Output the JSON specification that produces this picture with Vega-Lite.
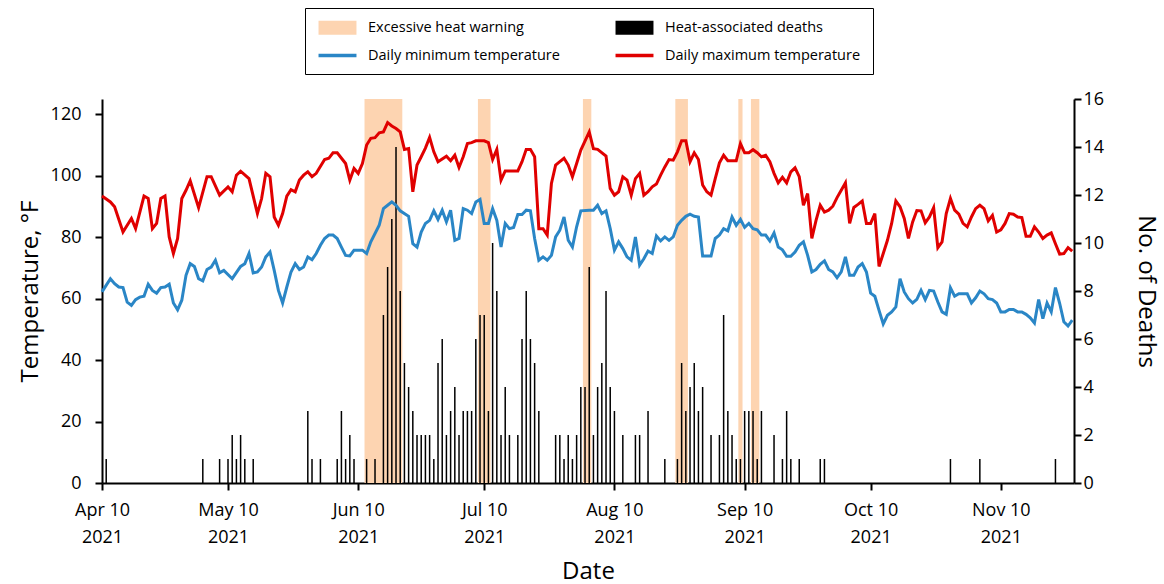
{
  "$schema": "https://vega.github.io/schema/vega-lite/v6.json",
  "width": 972,
  "height": 384,
  "autosize": "none",
  "padding": {"left": 102, "top": 99, "right": 90, "bottom": 101},
  "background": "white",
  "config": {
    "view": {"stroke": null},
    "font": "Open Sans",
    "axis": {
      "domainColor": "black", "tickColor": "black", "labelColor": "black", "titleColor": "black",
      "domainWidth": 2, "tickWidth": 2, "tickSize": 7, "labelFontSize": 18, "titleFontSize": 24,
      "titleFontWeight": "normal", "labelFont": "Open Sans", "titleFont": "Open Sans", "grid": false
    }
  },
  "datasets": {
    "bands": [
      {"start": "2021-06-11T12:00:00Z", "end": "2021-06-20T12:00:00Z"},
      {"start": "2021-07-08T12:00:00Z", "end": "2021-07-11T12:00:00Z"},
      {"start": "2021-08-02T12:00:00Z", "end": "2021-08-04T12:00:00Z"},
      {"start": "2021-08-24T12:00:00Z", "end": "2021-08-27T12:00:00Z"},
      {"start": "2021-09-08T12:00:00Z", "end": "2021-09-09T12:00:00Z"},
      {"start": "2021-09-11T12:00:00Z", "end": "2021-09-13T12:00:00Z"}
    ],
    "deaths": [
      {"date": "2021-04-11", "deaths": 1}, {"date": "2021-05-04", "deaths": 1}, {"date": "2021-05-08", "deaths": 1},
      {"date": "2021-05-10", "deaths": 1}, {"date": "2021-05-11", "deaths": 2}, {"date": "2021-05-12", "deaths": 1},
      {"date": "2021-05-13", "deaths": 2}, {"date": "2021-05-14", "deaths": 1}, {"date": "2021-05-16", "deaths": 1},
      {"date": "2021-05-29", "deaths": 3}, {"date": "2021-05-30", "deaths": 1}, {"date": "2021-06-01", "deaths": 1},
      {"date": "2021-06-05", "deaths": 1}, {"date": "2021-06-06", "deaths": 3}, {"date": "2021-06-07", "deaths": 1},
      {"date": "2021-06-08", "deaths": 2}, {"date": "2021-06-09", "deaths": 1}, {"date": "2021-06-12", "deaths": 1},
      {"date": "2021-06-14", "deaths": 1}, {"date": "2021-06-16", "deaths": 7}, {"date": "2021-06-17", "deaths": 9},
      {"date": "2021-06-18", "deaths": 11}, {"date": "2021-06-19", "deaths": 14}, {"date": "2021-06-20", "deaths": 8},
      {"date": "2021-06-21", "deaths": 5}, {"date": "2021-06-22", "deaths": 4}, {"date": "2021-06-23", "deaths": 3},
      {"date": "2021-06-24", "deaths": 2}, {"date": "2021-06-25", "deaths": 2}, {"date": "2021-06-26", "deaths": 2},
      {"date": "2021-06-27", "deaths": 2}, {"date": "2021-06-28", "deaths": 1}, {"date": "2021-06-29", "deaths": 5},
      {"date": "2021-06-30", "deaths": 6}, {"date": "2021-07-01", "deaths": 2}, {"date": "2021-07-02", "deaths": 3},
      {"date": "2021-07-03", "deaths": 4}, {"date": "2021-07-04", "deaths": 2}, {"date": "2021-07-05", "deaths": 3},
      {"date": "2021-07-06", "deaths": 3}, {"date": "2021-07-07", "deaths": 3}, {"date": "2021-07-08", "deaths": 6},
      {"date": "2021-07-09", "deaths": 7}, {"date": "2021-07-10", "deaths": 7}, {"date": "2021-07-11", "deaths": 3},
      {"date": "2021-07-12", "deaths": 10}, {"date": "2021-07-13", "deaths": 8}, {"date": "2021-07-14", "deaths": 2},
      {"date": "2021-07-15", "deaths": 4}, {"date": "2021-07-16", "deaths": 2}, {"date": "2021-07-18", "deaths": 2},
      {"date": "2021-07-19", "deaths": 6}, {"date": "2021-07-20", "deaths": 8}, {"date": "2021-07-21", "deaths": 6},
      {"date": "2021-07-22", "deaths": 5}, {"date": "2021-07-23", "deaths": 3}, {"date": "2021-07-27", "deaths": 2},
      {"date": "2021-07-28", "deaths": 2}, {"date": "2021-07-29", "deaths": 1}, {"date": "2021-07-30", "deaths": 2},
      {"date": "2021-07-31", "deaths": 1}, {"date": "2021-08-01", "deaths": 2}, {"date": "2021-08-02", "deaths": 4},
      {"date": "2021-08-03", "deaths": 4}, {"date": "2021-08-04", "deaths": 9}, {"date": "2021-08-05", "deaths": 2},
      {"date": "2021-08-06", "deaths": 4}, {"date": "2021-08-07", "deaths": 5}, {"date": "2021-08-08", "deaths": 8},
      {"date": "2021-08-09", "deaths": 4}, {"date": "2021-08-10", "deaths": 3}, {"date": "2021-08-12", "deaths": 2},
      {"date": "2021-08-15", "deaths": 2}, {"date": "2021-08-16", "deaths": 2}, {"date": "2021-08-18", "deaths": 3},
      {"date": "2021-08-22", "deaths": 1}, {"date": "2021-08-25", "deaths": 1}, {"date": "2021-08-26", "deaths": 5},
      {"date": "2021-08-27", "deaths": 3}, {"date": "2021-08-28", "deaths": 4}, {"date": "2021-08-29", "deaths": 5},
      {"date": "2021-08-30", "deaths": 3}, {"date": "2021-08-31", "deaths": 4}, {"date": "2021-09-02", "deaths": 2},
      {"date": "2021-09-04", "deaths": 2}, {"date": "2021-09-05", "deaths": 7}, {"date": "2021-09-06", "deaths": 3},
      {"date": "2021-09-07", "deaths": 2}, {"date": "2021-09-08", "deaths": 1}, {"date": "2021-09-09", "deaths": 1},
      {"date": "2021-09-10", "deaths": 3}, {"date": "2021-09-11", "deaths": 3}, {"date": "2021-09-12", "deaths": 3},
      {"date": "2021-09-13", "deaths": 1}, {"date": "2021-09-14", "deaths": 3}, {"date": "2021-09-17", "deaths": 2},
      {"date": "2021-09-19", "deaths": 1}, {"date": "2021-09-20", "deaths": 3}, {"date": "2021-09-21", "deaths": 1},
      {"date": "2021-09-23", "deaths": 1}, {"date": "2021-09-28", "deaths": 1}, {"date": "2021-09-29", "deaths": 1},
      {"date": "2021-10-29", "deaths": 1}, {"date": "2021-11-05", "deaths": 1}, {"date": "2021-11-23", "deaths": 1}
    ],
    "tmax": [
      {"date": "2021-04-10", "temp": 93.4}, {"date": "2021-04-12", "temp": 91.5}, {"date": "2021-04-13", "temp": 89.9},
      {"date": "2021-04-15", "temp": 81.7}, {"date": "2021-04-17", "temp": 86.1}, {"date": "2021-04-18", "temp": 82.8},
      {"date": "2021-04-20", "temp": 93.4}, {"date": "2021-04-21", "temp": 92.6}, {"date": "2021-04-22", "temp": 82.8},
      {"date": "2021-04-23", "temp": 84.5}, {"date": "2021-04-24", "temp": 92.6}, {"date": "2021-04-25", "temp": 93.4},
      {"date": "2021-04-26", "temp": 80.1}, {"date": "2021-04-27", "temp": 74.7}, {"date": "2021-04-28", "temp": 79.6},
      {"date": "2021-04-29", "temp": 92.6}, {"date": "2021-04-30", "temp": 95.3}, {"date": "2021-05-01", "temp": 98.4},
      {"date": "2021-05-03", "temp": 89.6}, {"date": "2021-05-05", "temp": 99.7}, {"date": "2021-05-06", "temp": 99.7},
      {"date": "2021-05-08", "temp": 93.7}, {"date": "2021-05-10", "temp": 96.4}, {"date": "2021-05-11", "temp": 94.8},
      {"date": "2021-05-12", "temp": 100.2}, {"date": "2021-05-13", "temp": 101.5}, {"date": "2021-05-15", "temp": 99.1},
      {"date": "2021-05-17", "temp": 87.7}, {"date": "2021-05-18", "temp": 92.6}, {"date": "2021-05-19", "temp": 100.8},
      {"date": "2021-05-20", "temp": 99.7}, {"date": "2021-05-21", "temp": 86.6}, {"date": "2021-05-22", "temp": 83.9},
      {"date": "2021-05-23", "temp": 87.7}, {"date": "2021-05-24", "temp": 93.4}, {"date": "2021-05-25", "temp": 95.5},
      {"date": "2021-05-26", "temp": 94.8}, {"date": "2021-05-27", "temp": 98.6}, {"date": "2021-05-28", "temp": 100.2},
      {"date": "2021-05-29", "temp": 101.3}, {"date": "2021-05-30", "temp": 99.7}, {"date": "2021-05-31", "temp": 100.8},
      {"date": "2021-06-02", "temp": 105.3}, {"date": "2021-06-03", "temp": 105.7}, {"date": "2021-06-04", "temp": 107.5},
      {"date": "2021-06-05", "temp": 107.5}, {"date": "2021-06-07", "temp": 104}, {"date": "2021-06-08", "temp": 98.6},
      {"date": "2021-06-09", "temp": 102.4}, {"date": "2021-06-10", "temp": 100.8}, {"date": "2021-06-11", "temp": 104},
      {"date": "2021-06-12", "temp": 110}, {"date": "2021-06-13", "temp": 112.2}, {"date": "2021-06-14", "temp": 112.4},
      {"date": "2021-06-15", "temp": 114}, {"date": "2021-06-16", "temp": 114.3}, {"date": "2021-06-17", "temp": 117.3},
      {"date": "2021-06-18", "temp": 116.2}, {"date": "2021-06-19", "temp": 115.4}, {"date": "2021-06-20", "temp": 114.3},
      {"date": "2021-06-21", "temp": 108.6}, {"date": "2021-06-22", "temp": 108.9}, {"date": "2021-06-23", "temp": 94.8},
      {"date": "2021-06-24", "temp": 103.5}, {"date": "2021-06-25", "temp": 106.2}, {"date": "2021-06-26", "temp": 109},
      {"date": "2021-06-27", "temp": 112.5}, {"date": "2021-06-28", "temp": 107.8}, {"date": "2021-06-29", "temp": 104.6},
      {"date": "2021-07-01", "temp": 106.4}, {"date": "2021-07-02", "temp": 104.9}, {"date": "2021-07-03", "temp": 106.7},
      {"date": "2021-07-04", "temp": 102.7}, {"date": "2021-07-05", "temp": 106.2}, {"date": "2021-07-06", "temp": 110.5},
      {"date": "2021-07-07", "temp": 110.8}, {"date": "2021-07-08", "temp": 111.4}, {"date": "2021-07-10", "temp": 111.4},
      {"date": "2021-07-11", "temp": 110.8}, {"date": "2021-07-12", "temp": 105.3}, {"date": "2021-07-13", "temp": 108.6},
      {"date": "2021-07-14", "temp": 98.6}, {"date": "2021-07-15", "temp": 101.6}, {"date": "2021-07-18", "temp": 101.6},
      {"date": "2021-07-19", "temp": 104.6}, {"date": "2021-07-20", "temp": 108.6}, {"date": "2021-07-21", "temp": 108.6},
      {"date": "2021-07-22", "temp": 106.2}, {"date": "2021-07-23", "temp": 82.8}, {"date": "2021-07-24", "temp": 82.8},
      {"date": "2021-07-25", "temp": 80.7}, {"date": "2021-07-26", "temp": 97.5}, {"date": "2021-07-27", "temp": 103.5},
      {"date": "2021-07-28", "temp": 104.6}, {"date": "2021-07-29", "temp": 105.7}, {"date": "2021-07-30", "temp": 103.5},
      {"date": "2021-07-31", "temp": 99.7}, {"date": "2021-08-01", "temp": 104}, {"date": "2021-08-02", "temp": 108.4},
      {"date": "2021-08-04", "temp": 114.3}, {"date": "2021-08-05", "temp": 108.8}, {"date": "2021-08-06", "temp": 108.6},
      {"date": "2021-08-08", "temp": 106.4}, {"date": "2021-08-09", "temp": 95.9}, {"date": "2021-08-10", "temp": 93.7},
      {"date": "2021-08-11", "temp": 94.8}, {"date": "2021-08-12", "temp": 99.7}, {"date": "2021-08-13", "temp": 98.6},
      {"date": "2021-08-14", "temp": 93.7}, {"date": "2021-08-15", "temp": 99.1}, {"date": "2021-08-16", "temp": 100.8},
      {"date": "2021-08-17", "temp": 93.7}, {"date": "2021-08-18", "temp": 94.8}, {"date": "2021-08-19", "temp": 96.4},
      {"date": "2021-08-20", "temp": 97.3}, {"date": "2021-08-21", "temp": 100.2}, {"date": "2021-08-22", "temp": 102.9},
      {"date": "2021-08-23", "temp": 105.3}, {"date": "2021-08-24", "temp": 105.1}, {"date": "2021-08-25", "temp": 107.8},
      {"date": "2021-08-26", "temp": 111.4}, {"date": "2021-08-27", "temp": 111.4}, {"date": "2021-08-28", "temp": 104.6},
      {"date": "2021-08-29", "temp": 107.5}, {"date": "2021-08-30", "temp": 105.3}, {"date": "2021-08-31", "temp": 97},
      {"date": "2021-09-01", "temp": 94.8}, {"date": "2021-09-02", "temp": 93.7}, {"date": "2021-09-03", "temp": 99.1},
      {"date": "2021-09-04", "temp": 104.2}, {"date": "2021-09-05", "temp": 106.7}, {"date": "2021-09-06", "temp": 104.9},
      {"date": "2021-09-08", "temp": 104.9}, {"date": "2021-09-09", "temp": 110.5}, {"date": "2021-09-10", "temp": 107.5},
      {"date": "2021-09-11", "temp": 107.5}, {"date": "2021-09-12", "temp": 108.5}, {"date": "2021-09-13", "temp": 107.5},
      {"date": "2021-09-14", "temp": 106.2}, {"date": "2021-09-15", "temp": 106.7}, {"date": "2021-09-16", "temp": 104.6},
      {"date": "2021-09-17", "temp": 100.8}, {"date": "2021-09-18", "temp": 97.7}, {"date": "2021-09-19", "temp": 99.5},
      {"date": "2021-09-20", "temp": 97.7}, {"date": "2021-09-21", "temp": 101.3}, {"date": "2021-09-22", "temp": 102.6},
      {"date": "2021-09-23", "temp": 99.7}, {"date": "2021-09-24", "temp": 90.4}, {"date": "2021-09-25", "temp": 94.2},
      {"date": "2021-09-26", "temp": 79.6}, {"date": "2021-09-27", "temp": 85.5}, {"date": "2021-09-28", "temp": 90.4},
      {"date": "2021-09-29", "temp": 88.2}, {"date": "2021-09-30", "temp": 88.8}, {"date": "2021-10-01", "temp": 90.1},
      {"date": "2021-10-02", "temp": 92.9}, {"date": "2021-10-03", "temp": 95.3}, {"date": "2021-10-04", "temp": 97.7},
      {"date": "2021-10-05", "temp": 84.5}, {"date": "2021-10-06", "temp": 89.7}, {"date": "2021-10-07", "temp": 90.7},
      {"date": "2021-10-08", "temp": 91.8}, {"date": "2021-10-09", "temp": 84.5}, {"date": "2021-10-10", "temp": 84.5},
      {"date": "2021-10-11", "temp": 87.7}, {"date": "2021-10-12", "temp": 70.5}, {"date": "2021-10-13", "temp": 74.7},
      {"date": "2021-10-14", "temp": 79}, {"date": "2021-10-15", "temp": 84.5}, {"date": "2021-10-16", "temp": 91.8},
      {"date": "2021-10-17", "temp": 89.9}, {"date": "2021-10-18", "temp": 86.1}, {"date": "2021-10-19", "temp": 79.6},
      {"date": "2021-10-20", "temp": 85}, {"date": "2021-10-21", "temp": 88.7}, {"date": "2021-10-22", "temp": 88.6},
      {"date": "2021-10-23", "temp": 84.7}, {"date": "2021-10-24", "temp": 86.6}, {"date": "2021-10-25", "temp": 89.6},
      {"date": "2021-10-26", "temp": 76.6}, {"date": "2021-10-27", "temp": 78.5}, {"date": "2021-10-28", "temp": 87.7},
      {"date": "2021-10-29", "temp": 92.6}, {"date": "2021-10-30", "temp": 88.8}, {"date": "2021-10-31", "temp": 87.5},
      {"date": "2021-11-01", "temp": 84.5}, {"date": "2021-11-02", "temp": 83.4}, {"date": "2021-11-03", "temp": 86.6},
      {"date": "2021-11-04", "temp": 89.3}, {"date": "2021-11-05", "temp": 90.4}, {"date": "2021-11-06", "temp": 89.3},
      {"date": "2021-11-07", "temp": 85.3}, {"date": "2021-11-08", "temp": 87.1}, {"date": "2021-11-09", "temp": 81.7},
      {"date": "2021-11-10", "temp": 82.4}, {"date": "2021-11-11", "temp": 84.5}, {"date": "2021-11-12", "temp": 87.7},
      {"date": "2021-11-13", "temp": 87.5}, {"date": "2021-11-14", "temp": 86.6}, {"date": "2021-11-15", "temp": 86.4},
      {"date": "2021-11-16", "temp": 80.3}, {"date": "2021-11-17", "temp": 80.3}, {"date": "2021-11-18", "temp": 83.4},
      {"date": "2021-11-19", "temp": 81.7}, {"date": "2021-11-20", "temp": 79.6}, {"date": "2021-11-21", "temp": 80.7},
      {"date": "2021-11-22", "temp": 81.4}, {"date": "2021-11-23", "temp": 77.9}, {"date": "2021-11-24", "temp": 74.5},
      {"date": "2021-11-25", "temp": 74.7}, {"date": "2021-11-26", "temp": 76.6}, {"date": "2021-11-27", "temp": 75.5}
    ],
    "tmin": [
      {"date": "2021-04-10", "temp": 62.2}, {"date": "2021-04-12", "temp": 66.5}, {"date": "2021-04-13", "temp": 64.9},
      {"date": "2021-04-14", "temp": 63.8}, {"date": "2021-04-15", "temp": 63.6}, {"date": "2021-04-16", "temp": 58.9},
      {"date": "2021-04-17", "temp": 57.8}, {"date": "2021-04-18", "temp": 59.7}, {"date": "2021-04-19", "temp": 60.5},
      {"date": "2021-04-20", "temp": 60.8}, {"date": "2021-04-21", "temp": 64.7}, {"date": "2021-04-22", "temp": 62.7},
      {"date": "2021-04-23", "temp": 61.8}, {"date": "2021-04-24", "temp": 63.6}, {"date": "2021-04-25", "temp": 63.8},
      {"date": "2021-04-26", "temp": 64.7}, {"date": "2021-04-27", "temp": 58.6}, {"date": "2021-04-28", "temp": 56.4},
      {"date": "2021-04-29", "temp": 59.5}, {"date": "2021-04-30", "temp": 67.6}, {"date": "2021-05-01", "temp": 71.4},
      {"date": "2021-05-02", "temp": 70.5}, {"date": "2021-05-03", "temp": 66.5}, {"date": "2021-05-04", "temp": 65.8},
      {"date": "2021-05-05", "temp": 69.5}, {"date": "2021-05-06", "temp": 70.3}, {"date": "2021-05-07", "temp": 72.5},
      {"date": "2021-05-08", "temp": 68.4}, {"date": "2021-05-09", "temp": 69.2}, {"date": "2021-05-11", "temp": 66.5},
      {"date": "2021-05-13", "temp": 70.5}, {"date": "2021-05-14", "temp": 71.4}, {"date": "2021-05-15", "temp": 74.7},
      {"date": "2021-05-16", "temp": 68.4}, {"date": "2021-05-17", "temp": 68.7}, {"date": "2021-05-18", "temp": 70.3},
      {"date": "2021-05-19", "temp": 73.6}, {"date": "2021-05-20", "temp": 75.2}, {"date": "2021-05-21", "temp": 69.2},
      {"date": "2021-05-22", "temp": 62.7}, {"date": "2021-05-23", "temp": 58.6}, {"date": "2021-05-24", "temp": 63.8},
      {"date": "2021-05-25", "temp": 68.7}, {"date": "2021-05-26", "temp": 71.4}, {"date": "2021-05-27", "temp": 69.5},
      {"date": "2021-05-28", "temp": 70.3}, {"date": "2021-05-29", "temp": 73.6}, {"date": "2021-05-30", "temp": 72.7},
      {"date": "2021-05-31", "temp": 74.7}, {"date": "2021-06-01", "temp": 77.4}, {"date": "2021-06-02", "temp": 79.6},
      {"date": "2021-06-03", "temp": 80.7}, {"date": "2021-06-04", "temp": 80.7}, {"date": "2021-06-05", "temp": 79.6},
      {"date": "2021-06-06", "temp": 76.8}, {"date": "2021-06-07", "temp": 74.1}, {"date": "2021-06-08", "temp": 73.9},
      {"date": "2021-06-09", "temp": 75.8}, {"date": "2021-06-11", "temp": 75.8}, {"date": "2021-06-12", "temp": 74.7},
      {"date": "2021-06-13", "temp": 78.5}, {"date": "2021-06-15", "temp": 83.9}, {"date": "2021-06-16", "temp": 89.3},
      {"date": "2021-06-17", "temp": 90.4}, {"date": "2021-06-18", "temp": 91.5}, {"date": "2021-06-19", "temp": 90.4},
      {"date": "2021-06-20", "temp": 88.6}, {"date": "2021-06-22", "temp": 86.8}, {"date": "2021-06-23", "temp": 77.9},
      {"date": "2021-06-24", "temp": 76.8}, {"date": "2021-06-25", "temp": 81.7}, {"date": "2021-06-26", "temp": 84.5},
      {"date": "2021-06-27", "temp": 85.5}, {"date": "2021-06-28", "temp": 88.6}, {"date": "2021-06-29", "temp": 85.8},
      {"date": "2021-06-30", "temp": 88.8}, {"date": "2021-07-01", "temp": 85}, {"date": "2021-07-02", "temp": 88.8},
      {"date": "2021-07-03", "temp": 79}, {"date": "2021-07-04", "temp": 79.6}, {"date": "2021-07-05", "temp": 89.3},
      {"date": "2021-07-06", "temp": 88.8}, {"date": "2021-07-07", "temp": 87.7}, {"date": "2021-07-08", "temp": 91.5},
      {"date": "2021-07-09", "temp": 92.3}, {"date": "2021-07-10", "temp": 84.5}, {"date": "2021-07-11", "temp": 84.5},
      {"date": "2021-07-12", "temp": 89.3}, {"date": "2021-07-13", "temp": 85.5}, {"date": "2021-07-14", "temp": 76.8},
      {"date": "2021-07-15", "temp": 84.5}, {"date": "2021-07-16", "temp": 82.8}, {"date": "2021-07-17", "temp": 83.2},
      {"date": "2021-07-18", "temp": 87.4}, {"date": "2021-07-19", "temp": 87.4}, {"date": "2021-07-20", "temp": 88.8},
      {"date": "2021-07-21", "temp": 88.6}, {"date": "2021-07-22", "temp": 79.6}, {"date": "2021-07-23", "temp": 72.5},
      {"date": "2021-07-24", "temp": 73.6}, {"date": "2021-07-25", "temp": 72.5}, {"date": "2021-07-26", "temp": 74.1},
      {"date": "2021-07-27", "temp": 80.1}, {"date": "2021-07-28", "temp": 82.3}, {"date": "2021-07-29", "temp": 86.6},
      {"date": "2021-07-30", "temp": 79}, {"date": "2021-07-31", "temp": 76.8}, {"date": "2021-08-01", "temp": 83.4},
      {"date": "2021-08-02", "temp": 88.6}, {"date": "2021-08-04", "temp": 88.8}, {"date": "2021-08-05", "temp": 88.8},
      {"date": "2021-08-06", "temp": 90.4}, {"date": "2021-08-07", "temp": 87.7}, {"date": "2021-08-08", "temp": 88.6},
      {"date": "2021-08-09", "temp": 82.8}, {"date": "2021-08-10", "temp": 75.8}, {"date": "2021-08-11", "temp": 78.5},
      {"date": "2021-08-12", "temp": 76.3}, {"date": "2021-08-13", "temp": 73.6}, {"date": "2021-08-14", "temp": 72.5},
      {"date": "2021-08-15", "temp": 80.1}, {"date": "2021-08-16", "temp": 70.9}, {"date": "2021-08-17", "temp": 73},
      {"date": "2021-08-18", "temp": 75.5}, {"date": "2021-08-19", "temp": 74.7}, {"date": "2021-08-20", "temp": 80.4},
      {"date": "2021-08-21", "temp": 78.8}, {"date": "2021-08-22", "temp": 80.1}, {"date": "2021-08-23", "temp": 79},
      {"date": "2021-08-24", "temp": 80.1}, {"date": "2021-08-25", "temp": 83.9}, {"date": "2021-08-26", "temp": 85.5},
      {"date": "2021-08-27", "temp": 86.8}, {"date": "2021-08-28", "temp": 87.5}, {"date": "2021-08-29", "temp": 86.8},
      {"date": "2021-08-30", "temp": 86.6}, {"date": "2021-08-31", "temp": 73.9}, {"date": "2021-09-02", "temp": 73.9},
      {"date": "2021-09-03", "temp": 79.6}, {"date": "2021-09-04", "temp": 80.7}, {"date": "2021-09-05", "temp": 82.8},
      {"date": "2021-09-06", "temp": 82.1}, {"date": "2021-09-07", "temp": 86.6}, {"date": "2021-09-08", "temp": 83.9},
      {"date": "2021-09-09", "temp": 85.8}, {"date": "2021-09-10", "temp": 83.2}, {"date": "2021-09-11", "temp": 84.5},
      {"date": "2021-09-12", "temp": 82.8}, {"date": "2021-09-13", "temp": 82.4}, {"date": "2021-09-14", "temp": 80.7},
      {"date": "2021-09-15", "temp": 80.7}, {"date": "2021-09-16", "temp": 78.8}, {"date": "2021-09-17", "temp": 81.4},
      {"date": "2021-09-18", "temp": 76.8}, {"date": "2021-09-19", "temp": 75.9}, {"date": "2021-09-20", "temp": 73.8},
      {"date": "2021-09-21", "temp": 73.8}, {"date": "2021-09-22", "temp": 75.2}, {"date": "2021-09-23", "temp": 77.4},
      {"date": "2021-09-24", "temp": 78.5}, {"date": "2021-09-25", "temp": 74.1}, {"date": "2021-09-26", "temp": 68.7},
      {"date": "2021-09-27", "temp": 69.5}, {"date": "2021-09-28", "temp": 71.2}, {"date": "2021-09-29", "temp": 72.3},
      {"date": "2021-09-30", "temp": 69.5}, {"date": "2021-10-01", "temp": 68.7}, {"date": "2021-10-02", "temp": 66.8},
      {"date": "2021-10-03", "temp": 68.7}, {"date": "2021-10-04", "temp": 73.6}, {"date": "2021-10-05", "temp": 67.6},
      {"date": "2021-10-06", "temp": 67.6}, {"date": "2021-10-07", "temp": 70.3}, {"date": "2021-10-08", "temp": 71.4},
      {"date": "2021-10-09", "temp": 68.7}, {"date": "2021-10-10", "temp": 61.8}, {"date": "2021-10-11", "temp": 60.8},
      {"date": "2021-10-12", "temp": 56.2}, {"date": "2021-10-13", "temp": 51.8}, {"date": "2021-10-14", "temp": 54.6},
      {"date": "2021-10-15", "temp": 55.7}, {"date": "2021-10-16", "temp": 57.3}, {"date": "2021-10-17", "temp": 66.5},
      {"date": "2021-10-18", "temp": 62.2}, {"date": "2021-10-19", "temp": 60}, {"date": "2021-10-20", "temp": 58.6},
      {"date": "2021-10-21", "temp": 59.8}, {"date": "2021-10-22", "temp": 62.7}, {"date": "2021-10-23", "temp": 59.7},
      {"date": "2021-10-24", "temp": 62.7}, {"date": "2021-10-25", "temp": 62.5}, {"date": "2021-10-26", "temp": 58.9},
      {"date": "2021-10-27", "temp": 55.7}, {"date": "2021-10-28", "temp": 54.9}, {"date": "2021-10-29", "temp": 63.5},
      {"date": "2021-10-30", "temp": 60.8}, {"date": "2021-10-31", "temp": 61.6}, {"date": "2021-11-02", "temp": 61.6},
      {"date": "2021-11-03", "temp": 58.6}, {"date": "2021-11-04", "temp": 60.3}, {"date": "2021-11-05", "temp": 62.5},
      {"date": "2021-11-06", "temp": 61.6}, {"date": "2021-11-07", "temp": 60}, {"date": "2021-11-08", "temp": 59.7},
      {"date": "2021-11-09", "temp": 58.6}, {"date": "2021-11-10", "temp": 55.7}, {"date": "2021-11-11", "temp": 55.7},
      {"date": "2021-11-12", "temp": 56.5}, {"date": "2021-11-13", "temp": 56.5}, {"date": "2021-11-14", "temp": 55.7},
      {"date": "2021-11-15", "temp": 55.7}, {"date": "2021-11-16", "temp": 54.9}, {"date": "2021-11-17", "temp": 53.8},
      {"date": "2021-11-18", "temp": 52.1}, {"date": "2021-11-19", "temp": 59.7}, {"date": "2021-11-20", "temp": 53.5},
      {"date": "2021-11-21", "temp": 58.6}, {"date": "2021-11-22", "temp": 55.7}, {"date": "2021-11-23", "temp": 63.6},
      {"date": "2021-11-24", "temp": 58.5}, {"date": "2021-11-25", "temp": 52.5}, {"date": "2021-11-26", "temp": 51.1},
      {"date": "2021-11-27", "temp": 53}
    ]
  },
  "layer": [
    {
      "data": {"name": "bands"},
      "mark": {"type": "rect", "opacity": 1},
      "encoding": {
        "x": {
          "field": "start", "type": "temporal",
          "scale": {"type": "utc", "domain": [{"year": 2021, "month": 4, "date": 10, "utc": true}, {"year": 2021, "month": 11, "date": 27, "hours": 10, "utc": true}]},
          "axis": {
            "title": "Date", "titlePadding": 13,
            "values": [
              {"year": 2021, "month": 4, "date": 10, "utc": true}, {"year": 2021, "month": 5, "date": 10, "utc": true},
              {"year": 2021, "month": 6, "date": 10, "utc": true}, {"year": 2021, "month": 7, "date": 10, "utc": true},
              {"year": 2021, "month": 8, "date": 10, "utc": true}, {"year": 2021, "month": 9, "date": 10, "utc": true},
              {"year": 2021, "month": 10, "date": 10, "utc": true}, {"year": 2021, "month": 11, "date": 10, "utc": true}
            ],
            "labelExpr": "[utcFormat(datum.value, '%b %d'), utcFormat(datum.value, '%Y')]",
            "labelLineHeight": 27, "labelPadding": 11, "labelFlush": false, "labelOverlap": false
          }
        },
        "x2": {"field": "end"},
        "color": {
          "datum": "Excessive heat warning", "type": "nominal",
          "scale": {
            "domain": ["Excessive heat warning", "Heat-associated deaths", "Daily minimum temperature", "Daily maximum temperature"],
            "range": ["#fdd4b1", "#000000", "#2a86c6", "#e00000"]
          },
          "legend": {
            "title": null, "orient": "none", "legendX": 203, "legendY": -91, "direction": "horizontal",
            "columns": 2, "columnPadding": 54, "rowPadding": 12, "padding": 12,
            "strokeColor": "black", "fillColor": "white",
            "symbolSize": 225, "symbolOffset": 13, "labelOffset": 23, "symbolStrokeWidth": 0,
            "symbolType": {"expr": "datum.value == 'Excessive heat warning' || datum.value == 'Heat-associated deaths' ? 'M-2.53,-0.93L2.53,-0.93L2.53,0.93L-2.53,0.93Z' : 'M-2.53,-0.23L2.53,-0.23L2.53,0.23L-2.53,0.23Z'"},
            "labelFontSize": 14.5, "labelFont": "Open Sans", "labelColor": "black", "labelLimit": 300,
            "encode": {
              "legend": {"strokeWidth": {"value": 1.5}}
            }
          }
        }
      }
    },
    {
      "data": {"name": "deaths"},
      "mark": {"type": "rule", "strokeWidth": 1.5},
      "encoding": {
        "x": {"field": "date", "type": "temporal"},
        "y": {
          "field": "deaths", "type": "quantitative",
          "scale": {"domain": [0, 16], "nice": false},
          "axis": {"orient": "right", "title": "No. of Deaths", "values": [0, 2, 4, 6, 8, 10, 12, 14, 16], "labelPadding": 2, "titlePadding": 30, "titleAngle": 90}
        },
        "y2": {"datum": 0},
        "color": {"datum": "Heat-associated deaths", "type": "nominal"}
      }
    },
    {
      "layer": [
        {
          "data": {"name": "tmin"},
          "mark": {"type": "line", "strokeWidth": 3},
          "encoding": {
            "x": {"field": "date", "type": "temporal"},
            "y": {
              "field": "temp", "type": "quantitative",
              "scale": {"domain": [0, 125], "nice": false},
              "axis": {"orient": "left", "title": "Temperature, °F", "values": [0, 20, 40, 60, 80, 100, 120], "labelPadding": 14, "titlePadding": 8}
            },
            "color": {"datum": "Daily minimum temperature", "type": "nominal"}
          }
        },
        {
          "data": {"name": "tmax"},
          "mark": {"type": "line", "strokeWidth": 3},
          "encoding": {
            "x": {"field": "date", "type": "temporal"},
            "y": {"field": "temp", "type": "quantitative"},
            "color": {"datum": "Daily maximum temperature", "type": "nominal"}
          }
        }
      ]
    }
  ],
  "resolve": {"scale": {"y": "independent"}}
}
